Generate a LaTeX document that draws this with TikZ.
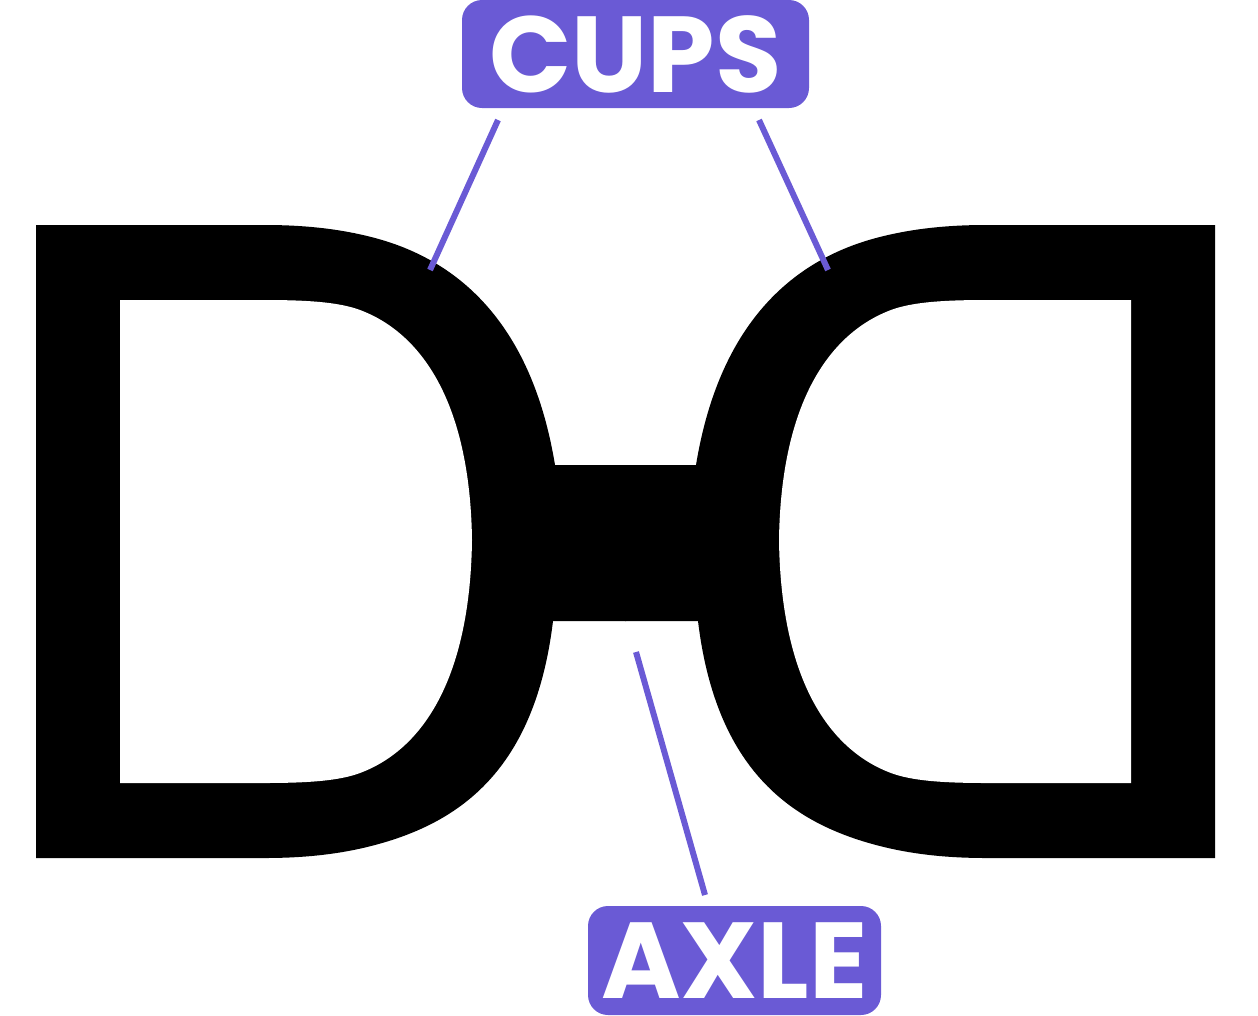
\documentclass[tikz,border=0pt]{standalone}
\usepackage{fontspec}
\newfontfamily\tagfont{Poppins}
\definecolor{tagpurple}{RGB}{106,90,213}

\begin{document}
\begin{tikzpicture}[x=1pt, y=-1pt]
\tikzset{tag/.style={fill=tagpurple, rounded corners=20pt, text=white, inner sep=0pt,
                     font=\tagfont\bfseries\fontsize{108}{108}\selectfont, text height=76pt, text depth=0pt},
         pointer/.style={draw=tagpurple, line width=6pt}}
\useasboundingbox (0,0) rectangle (1258,1015);

  % one half of the frame, mirrored for the other half
  \foreach \side/\shift in {1/0, -1/1251} {
    \begin{scope}[xshift=\shift pt, xscale=\side]
      \fill (36,225) -- (265,225) .. controls (310,225) and (345,230) .. (375,238)
            .. controls (460,260.7) and (532,325) .. (555,465)
            -- (626,465) -- (626,621) -- (553,621)
            .. controls (535,770) and (460,822.3) .. (375,845)
            .. controls (345,853) and (310,858) .. (265,858) -- (36,858) -- cycle;
      \fill[white] (120,300) -- (265,300) .. controls (310,300) and (340,302.5) .. (360,310)
            .. controls (420,332.5) and (470,400) .. (472,540)
            .. controls (470,683) and (420,750.5) .. (360,773)
            .. controls (340,780.5) and (310,783) .. (265,783) -- (120,783) -- cycle;
    \end{scope}
  }

  \node[tag, minimum width=347pt, minimum height=108pt] (cups) at (635.5,54) {CUPS};
  \node[tag, minimum width=293pt, minimum height=109pt] (axle) at (734.5,960.5) {AXLE};

  \coordinate (cupsL) at (498,120);
  \coordinate (cupL)  at (430,270);
  \coordinate (cupsR) at (759,120);
  \coordinate (cupR)  at (828,270);
  \coordinate (axleT) at (705,895);
  \coordinate (bar)   at (636,652);

  \draw[pointer] (cupsL) -- (cupL);
  \draw[pointer] (cupsR) -- (cupR);
  \draw[pointer] (axleT) -- (bar);
\end{tikzpicture}
\end{document}
